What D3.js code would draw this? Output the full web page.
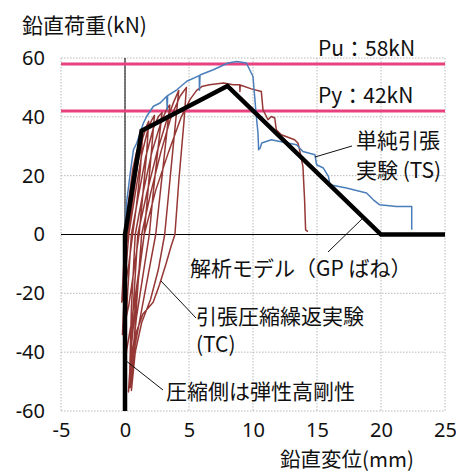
<!DOCTYPE html>
<html><head><meta charset="utf-8">
<script src="https://cdn.jsdelivr.net/npm/d3@7"></script>
<style>
html,body{margin:0;padding:0;background:#fff;}
svg text{font-family:"Noto Sans CJK JP","Noto Sans",sans-serif;fill:#111;}
</style></head>
<body><svg id="c" width="456" height="474"></svg>
<script>
// ---- data ----
const xTicks = [-5, 0, 5, 10, 15, 20, 25];
const yTicks = [-60, -40, -20, 0, 20, 40, 60];
const refLevels = [58, 42];            // Pu, Py (kN)
const refLabels = ["Pu：58kN", "Py：42kN"];

// analysis model (GP spring) [disp mm, load kN]
const modelX = [0, 0, 1.3, 8, 20, 25];
const modelY = [-60, 0, 35.3, 50.5, 0, 0];

// simple tension test (TS)
const tsX = [0, 0.05, 0.15, 0.41, 0.66, 0.92, 1.18, 1.44, 1.7, 2.22, 2.74, 3.26, 3.3, 3.33, 4.05, 4.83, 5.8, 5.82, 5.86, 6.9, 8.05, 8.73, 9.48, 9.74, 10.0, 10.13, 10.26, 10.39, 10.44, 10.56, 10.68, 11.43, 12.1, 13.4, 13.9, 14.84, 14.97, 15.5, 15.9, 16.0, 17.3, 18.87, 19.4, 19.9, 21.2, 22.4, 22.4];
const tsY = [0, 5, 11.8, 20.9, 28.8, 31.1, 34.5, 37.9, 40.2, 43.6, 44.7, 47, 42.5, 47.2, 49.2, 52.1, 54, 49, 54.2, 56, 58.3, 58.8, 58.3, 56.0, 53.7, 46.9, 40.1, 34.5, 28.8, 29.4, 31.1, 32.2, 31.6, 30.5, 28.2, 27.1, 23.7, 22.6, 19.7, 16.9, 15.8, 14.1, 11.8, 10.1, 9.5, 9.5, 1.6];

// cyclic tension-compression test (TC), one continuous path
const tcX = [0, 0.3, 0.6, 0.9, 1.2, 1.35, 1.2, 0.9, 0.6, 0.3, 0.0, -0.25,
  -0.1, 0.2, 0.6, 1.0, 1.4, 1.7, 1.85, 1.7, 1.4, 1.1, 0.7, 0.3, -0.2,
  0.0, 0.3, 0.8, 1.3, 1.8, 2.1, 2.3, 2.1, 1.8, 1.5, 1.0, 0.5, -0.1,
  0.2, 0.5, 1.0, 1.6, 2.2, 2.6, 2.9, 2.6, 2.2, 1.9, 1.4, 0.9, 0.35,
  0.5, 0.8, 1.4, 2.1, 2.8, 3.3, 3.5, 3.2, 2.8, 2.4, 1.8, 1.2, 0.6, 0.4,
  0.6, 1.0, 1.7, 2.5, 3.2, 3.8, 4.2, 3.9, 3.5, 3.1, 2.6, 2.0, 1.3, 0.8, 0.5,
  0.8, 1.3, 2.0, 2.8, 3.6, 4.3, 4.8, 4.6, 4.2, 3.9, 3.6, 3.2, 2.7, 2.2, 1.4, 0.9, 0.6, 0.27,
  0.5, 0.9, 1.5, 2.4, 3.4, 4.4, 5.1, 5.6, 6.0, 6.6, 7.7, 8.46, 8.96, 8.98, 9.0, 9.87, 10.65, 10.78, 11.17, 11.43, 11.7, 11.82, 12.21, 13.25, 13.51, 13.64, 13.9, 14.03, 14.11, 14.29];
const tcY = [0, 12, 22, 28, 31, 32, 22, 10, 0, -10, -18, -23,
  -10, 0, 12, 24, 33, 37, 38.5, 28, 14, 0, -12, -24, -34,
  -15, 0, 14, 27, 36, 39, 40.5, 30, 15, 0, -15, -30, -45,
  -20, 0, 12, 26, 36, 40, 41.5, 30, 14, 0, -14, -28, -50,
  -25, 0, 14, 28, 38, 43, 44, 32, 16, 0, -14, -28, -42, -52,
  -28, 0, 14, 28, 38, 45, 49, 36, 18, 0, -12, -22, -30, -40, -53,
  -30, 0, 14, 28, 40, 47, 50, 38, 18, 0, -4, -10, -17, -23, -27, -33, -39, -53.5,
  -38, -20, 0, 15, 28, 40, 46, 49, 50.3, 50.9, 51.5, 50.9, 50.9, 48.6, 50.8, 49.5, 48.6, 42.4, 39, 40.1, 39.6, 35.6, 33.9, 32.2, 31.1, 28.8, 23.1, 11.8, 1.6, 1.0];

// ---- layout ----
const svg = d3.select("#c");
const x = d3.scaleLinear().domain([-5, 25]).range([61, 445]);
const y = d3.scaleLinear().domain([-60, 60]).range([411, 58]);
const zip = (a, b) => a.map((v, i) => [v, b[i]]);
const line = d3.line().x(d => x(d[0])).y(d => y(d[1]));

// grid (dotted)
const grid = svg.append("g").attr("stroke", "#b8b8b8").attr("stroke-width", 1).attr("stroke-dasharray", "1.5,1.5").attr("fill", "none");
xTicks.forEach(t => grid.append("line").attr("x1", x(t)).attr("x2", x(t)).attr("y1", y(60)).attr("y2", y(-60)));
yTicks.forEach(t => grid.append("line").attr("x1", x(-5)).attr("x2", x(25)).attr("y1", y(t)).attr("y2", y(t)));

// zero axes
svg.append("line").attr("x1", x(-5)).attr("x2", x(25)).attr("y1", y(0)).attr("y2", y(0)).attr("stroke", "#000").attr("stroke-width", 1);
svg.append("line").attr("x1", x(0)).attr("x2", x(0)).attr("y1", y(60)).attr("y2", y(-60)).attr("stroke", "#000").attr("stroke-width", 1);

// reference lines
refLevels.forEach(v => svg.append("line").attr("x1", x(-5)).attr("x2", x(25)).attr("y1", y(v)).attr("y2", y(v))
  .attr("stroke", "#e8417f").attr("stroke-width", 3));

// curves
svg.append("path").datum(zip(tcX, tcY)).attr("d", line).attr("fill", "none").attr("stroke", "#953735").attr("stroke-width", 1.5).attr("stroke-linejoin", "round");
svg.append("path").datum(zip(tsX, tsY)).attr("d", line).attr("fill", "none").attr("stroke", "#4a7ebb").attr("stroke-width", 1.5).attr("stroke-linejoin", "round");
svg.append("path").datum(zip(modelX, modelY)).attr("d", line).attr("fill", "none").attr("stroke", "#000").attr("stroke-width", 4.5).attr("stroke-linejoin", "miter");

// axes labels via d3 axes
const ax = svg.append("g").attr("transform", `translate(0,${y(-60)})`)
  .call(d3.axisBottom(x).tickValues(xTicks).tickSize(0).tickPadding(12).tickFormat(d3.format("d")));
const ay = svg.append("g").attr("transform", `translate(${x(-5)},0)`)
  .call(d3.axisLeft(y).tickValues(yTicks).tickSize(0).tickPadding(16).tickFormat(d3.format("d")));
[ax, ay].forEach(g => { g.select(".domain").remove(); g.selectAll("text").attr("font-size", 20).attr("fill", "#111")
  .style("font-family", '"Noto Sans",sans-serif'); });
ax.selectAll("text").attr("dy", null).attr("y", 437 - y(-60)).text(d => d < 0 ? "-" + Math.abs(d) : d);
ay.selectAll("text").text(d => d < 0 ? "-" + Math.abs(d) : d);

// titles
const T = (txt, tx, ty, size, anchor) => svg.append("text").attr("x", tx).attr("y", ty).attr("font-size", size).attr("text-anchor", anchor || "start").text(txt);
T("鉛直荷重(kN)", 22, 33, 21);
T("鉛直変位(mm)", 347, 467, 20.5, "middle");
T(refLabels[0], 318, 56, 21);
T(refLabels[1], 318, 103, 21);
T("単純引張", 356, 148, 21);
T("実験 (TS)", 356, 178, 21);
T("解析モデル（GP ばね）", 190, 276, 21);
T("引張圧縮繰返実験", 196, 324, 21);
T("(TC)", 196, 352, 21);
T("圧縮側は弾性高剛性", 166, 399, 21);

// leader lines
const leaders = [[352, 146, 315, 157], [328, 252, 363, 218], [161, 281, 196, 318], [125, 360, 163, 390]];
leaders.forEach(l => svg.append("line").attr("x1", l[0]).attr("y1", l[1]).attr("x2", l[2]).attr("y2", l[3]).attr("stroke", "#111").attr("stroke-width", 1));
</script></body></html>
